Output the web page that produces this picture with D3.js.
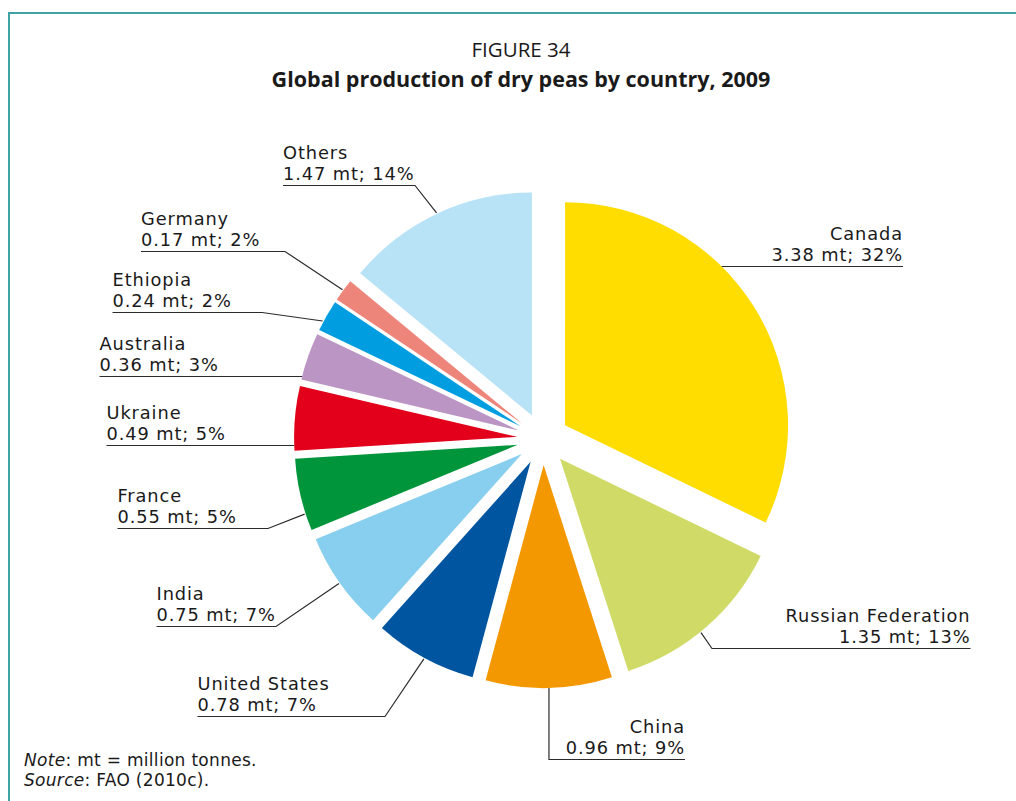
<!DOCTYPE html>
<html>
<head>
<meta charset="utf-8">
<script src="https://cdn.jsdelivr.net/npm/d3@7"></script>
<style>
  html, body { margin: 0; padding: 0; background: #ffffff; }
  svg { display: block; }
  text { font-family: "DejaVu Sans", "Open Sans", sans-serif; fill: #1a1a1a; }
  .title { font-family: "Open Sans", "Noto Sans", sans-serif; }
</style>
</head>
<body>
<svg id="chart" width="1016" height="801"></svg>
<script>
// ---- data ----
const countries = ["Canada", "Russian Federation", "China", "United States", "India", "France",
                   "Ukraine", "Australia", "Ethiopia", "Germany", "Others"];
const production = [3.38, 1.35, 0.96, 0.78, 0.75, 0.55, 0.49, 0.36, 0.24, 0.17, 1.47]; // million tonnes
const shares = [32, 13, 9, 7, 7, 5, 5, 3, 2, 2, 14]; // percent
const sliceColors = ["#FFDD00", "#CFDB66", "#F39800", "#0055A0", "#88CFEF", "#00953A",
                     "#E2001A", "#BB95C4", "#009EE0", "#EE857A", "#B8E2F6"];
const titleLine1 = "FIGURE 34";
const titleLine2 = "Global production of dry peas by country, 2009";

// ---- label layout (positions only) ----
const labelLayout = [
  { side: "end",   x: 903, uy: 266.5, mode: "flat" },                       // Canada
  { side: "end",   x: 970.5, uy: 648.5, mode: "slant", ix: 712, ang: 141 }, // Russia
  { side: "end",   x: 685, uy: 759.5, mode: "drop" },                       // China
  { side: "start", x: 197.5, uy: 716.5, mode: "slant", ix: 385 },           // United States
  { side: "start", x: 156.5, uy: 626.5, mode: "slant", ix: 276 },           // India
  { side: "start", x: 117.5, uy: 528.5, mode: "slant", ix: 268, ang: 252 }, // France
  { side: "start", x: 106.5, uy: 445.5, mode: "flat" },                     // Ukraine
  { side: "start", x: 99.5,  uy: 376.5, mode: "flat" },                     // Australia
  { side: "start", x: 112.5, uy: 312.5, mode: "slant", ix: 262, ang: 298 }, // Ethiopia
  { side: "start", x: 141,   uy: 251.5, mode: "slant", ix: 285 },           // Germany
  { side: "start", x: 283,   uy: 185.5, mode: "slant", ix: 415 }            // Others
];

const W = 1016, H = 801;
const cx = 543, cy = 439, R = 223, explode = 26;
const lineGap = 21, underGap = 5.5;
const labelSize = 17.8, labelSpacing = 0.9;

const svg = d3.select("#chart");

// frame
svg.append("line").attr("x1", 8).attr("x2", W).attr("y1", 13).attr("y2", 13)
  .attr("stroke", "#3FA3A3").attr("stroke-width", 2);
svg.append("line").attr("x1", 9).attr("x2", 9).attr("y1", 12).attr("y2", H)
  .attr("stroke", "#3FA3A3").attr("stroke-width", 2);

// titles
svg.append("text").attr("class", "title").attr("x", 521).attr("y", 57).attr("text-anchor", "middle")
  .style("font-size", "20.5px").text(titleLine1);
svg.append("text").attr("class", "title").attr("x", 521).attr("y", 86.5).attr("text-anchor", "middle")
  .style("font-size", "21.5px").style("font-weight", "bold").text(titleLine2);

// pie
const data = countries.map((c, i) => ({ name: c, value: production[i], share: shares[i], color: sliceColors[i], i }));
const pie = d3.pie().sort(null).value(d => d.value).startAngle(0).endAngle(2 * Math.PI);
const arcs = pie(data);
const arcGen = d3.arc().innerRadius(0).outerRadius(R);

arcs.forEach(a => {
  const mid = (a.startAngle + a.endAngle) / 2;
  a.ox = cx + explode * Math.sin(mid);
  a.oy = cy - explode * Math.cos(mid);
  a.mid = mid;
});

svg.append("g").selectAll("path.slice").data(arcs).join("path")
  .attr("class", "slice")
  .attr("transform", a => `translate(${a.ox},${a.oy})`)
  .attr("d", arcGen)
  .attr("fill", a => a.data.color);

// labels
const fmt = d3.format(".2f");
const lab = svg.append("g");
arcs.forEach((a, i) => {
  const L = labelLayout[i];
  const b2 = L.uy - underGap, b1 = b2 - lineGap;
  const t = lab.append("text").attr("text-anchor", L.side)
    .style("font-size", labelSize + "px").style("letter-spacing", labelSpacing + "px");
  t.append("tspan").attr("x", L.x).attr("y", b1).text(a.data.name);
  t.append("tspan").attr("x", L.x).attr("y", b2).text(`${fmt(a.data.value)} mt; ${a.data.share}%`);

  let pts;
  if (L.mode === "flat") {
    const dy = L.uy - a.oy;
    const dx = Math.sqrt(R * R - dy * dy);
    const ex = L.side === "start" ? a.ox - dx : a.ox + dx;
    pts = [[L.x, L.uy], [ex, L.uy]];
  } else if (L.mode === "drop") {
    const ang = L.ang !== undefined ? L.ang * Math.PI / 180 : a.mid;
    const px = a.ox + R * Math.sin(ang), py = a.oy - R * Math.cos(ang);
    pts = [[L.x, L.uy], [px, L.uy], [px, py]];
  } else {
    const ang = L.ang !== undefined ? L.ang * Math.PI / 180 : a.mid;
    const px = a.ox + (R + 1) * Math.sin(ang), py = a.oy - (R + 1) * Math.cos(ang);
    pts = [[L.x, L.uy], [L.ix, L.uy], [px, py]];
  }
  lab.append("path").attr("d", d3.line()(pts))
    .attr("fill", "none").attr("stroke", "#2b2b2b").attr("stroke-width", 1.2);
});

// notes
const n1 = svg.append("text").attr("x", 24).attr("y", 766).style("font-size", "17px").style("letter-spacing", "0.3px");
n1.append("tspan").style("font-style", "italic").text("Note");
n1.append("tspan").text(": mt = million tonnes.");
const n2 = svg.append("text").attr("x", 24).attr("y", 786).style("font-size", "17px").style("letter-spacing", "0.3px");
n2.append("tspan").style("font-style", "italic").text("Source");
n2.append("tspan").text(": FAO (2010c).");
</script>
</body>
</html>
